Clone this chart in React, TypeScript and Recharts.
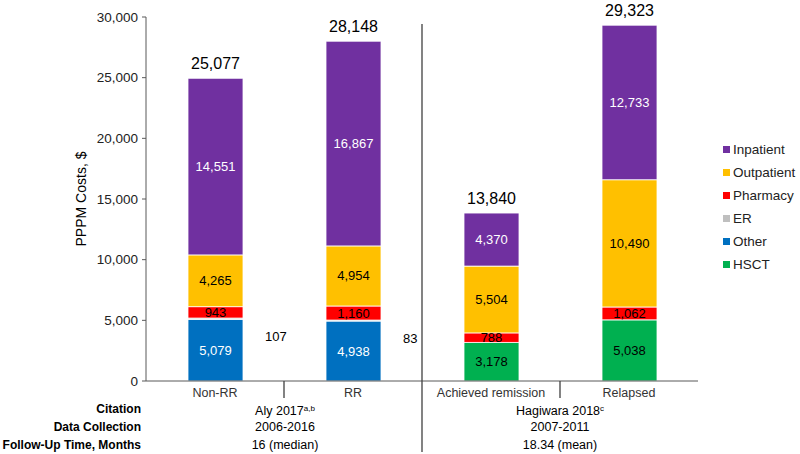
import React from "react"
import { BarChart, Bar, XAxis, YAxis, LabelList } from "recharts"

const groups = ["Non-RR", "RR", "Achieved remission", "Relapsed"]
const other = [5079, 4938, null, null]
const hsct = [null, null, 3178, 5038]
const er = [107, 83, null, null]
const pharmacy = [943, 1160, 788, 1062]
const outpatient = [4265, 4954, 5504, 10490]
const inpatient = [14551, 16867, 4370, 12733]
const totals = [25077, 28148, 13840, 29323]
const yTicks = [0, 5000, 10000, 15000, 20000, 25000, 30000]

const tableRows = ["Citation", "Data Collection", "Follow-Up Time, Months"]
const studyA = ["Aly 2017", "2006-2016", "16 (median)"]
const studyB = ["Hagiwara 2018", "2007-2011", "18.34 (mean)"]

const series = [
  { key: "other", name: "Other", color: "#0070C0", text: "#fff" },
  { key: "hsct", name: "HSCT", color: "#00B050", text: "#000" },
  { key: "er", name: "ER", color: "#BFBFBF", text: "#000" },
  { key: "pharmacy", name: "Pharmacy", color: "#FF0000", text: "#000" },
  { key: "outpatient", name: "Outpatient", color: "#FFC000", text: "#000" },
  { key: "inpatient", name: "Inpatient", color: "#7030A0", text: "#fff" },
]

const legendOrder = ["inpatient", "outpatient", "pharmacy", "er", "other", "hsct"]

const data = groups.map((g, i) => ({
  group: g,
  other: other[i],
  hsct: hsct[i],
  er: er[i],
  pharmacy: pharmacy[i],
  outpatient: outpatient[i],
  inpatient: inpatient[i],
  total: totals[i],
}))

const fmt = (v: number) => v.toLocaleString("en-US")
const font = "'Liberation Sans', Arial, sans-serif"

const W = 800
const H = 454
const plotLeft = 146
const plotRight = 698
const plotTop = 17
const plotBottom = 381
const xAxisH = 20
const band = (plotRight - plotLeft) / groups.length

function centerLabel(color: string) {
  return (props: any) => {
    const { x, y, width, height, value } = props
    if (value == null) return null
    return (
      <text
        x={x + width / 2}
        y={y + height / 2}
        textAnchor="middle"
        dominantBaseline="central"
        fontSize={13}
        fontFamily={font}
        fill={color}
      >
        {fmt(value)}
      </text>
    )
  }
}

// ER is too thin to label inside, so its value sits beside the bar
function erLabel(props: any) {
  const { x, y, width, value } = props
  if (value == null) return null
  return (
    <text
      x={x + width + 22}
      y={y + 18}
      textAnchor="start"
      dominantBaseline="central"
      fontSize={13}
      fontFamily={font}
      fill="#000"
    >
      {value}
    </text>
  )
}

function totalLabel(props: any) {
  const { x, y, width, index } = props
  return (
    <text
      x={x + width / 2}
      y={y - 15}
      textAnchor="middle"
      dominantBaseline="central"
      fontSize={16}
      fontFamily={font}
      fill="#000"
    >
      {fmt(totals[index])}
    </text>
  )
}

// separators between the study groups
const dividers = [
  { pos: 1, top: plotBottom, bottom: plotBottom + 17 },
  { pos: 2, top: 24, bottom: 452 },
  { pos: 3, top: plotBottom, bottom: plotBottom + 17 },
]

export default function App() {
  return (
    <div
      style={{
        position: "absolute",
        left: 0,
        top: 0,
        width: W,
        height: H,
        background: "#fff",
        fontFamily: font,
      }}
    >
      <BarChart
        width={W}
        height={H}
        data={data}
        margin={{ top: plotTop, right: W - plotRight, bottom: H - plotBottom - xAxisH, left: 0 }}
        barSize={55}
      >
        <XAxis
          dataKey="group"
          height={xAxisH}
          tickLine={false}
          tickSize={4}
          tickMargin={3}
          axisLine={{ stroke: "#595959" }}
          tick={{ fontSize: 12.5, fill: "#333", fontFamily: font }}
          interval={0}
        />
        <YAxis
          width={plotLeft}
          domain={[0, 30000]}
          ticks={yTicks}
          tickFormatter={fmt}
          axisLine={{ stroke: "#595959" }}
          tickLine={{ stroke: "#595959" }}
          tickSize={4}
          tickMargin={4}
          tick={{ fontSize: 13.5, fill: "#222", fontFamily: font }}
          label={{
            content: (p: any) => {
              const vb = p.viewBox
              const cx = vb.x + 81
              const cy = vb.y + vb.height / 2
              return (
                <text
                  x={cx}
                  y={cy}
                  transform={`rotate(-90 ${cx} ${cy})`}
                  textAnchor="middle"
                  dominantBaseline="central"
                  fontSize={14}
                  fontFamily={font}
                  fill="#000"
                >
                  PPPM Costs, $
                </text>
              )
            },
          }}
        />
        {series.map((s) => (
          <Bar
            key={s.key}
            dataKey={s.key}
            name={s.name}
            stackId="a"
            fill={s.color}
            stroke="#fff"
            strokeWidth={0.8}
            isAnimationActive={false}
          >
            {s.key === "er" ? (
              <LabelList dataKey={s.key} content={erLabel} />
            ) : (
              <LabelList dataKey={s.key} content={centerLabel(s.text)} />
            )}
            {s.key === "inpatient" && <LabelList dataKey="total" content={totalLabel} />}
          </Bar>
        ))}
      </BarChart>

      <svg
        width={W}
        height={H}
        style={{ position: "absolute", left: 0, top: 0, pointerEvents: "none" }}
      >
        {dividers.map((d) => {
          const x = plotLeft + band * d.pos
          return (
            <line key={d.pos} x1={x} x2={x} y1={d.top} y2={d.bottom} stroke="#404040" strokeWidth={1.3} />
          )
        })}
      </svg>

      {/* legend */}
      <div style={{ position: "absolute", left: 723, top: 138 }}>
        {legendOrder.map((k) => {
          const s = series.find((x) => x.key === k)!
          return (
            <div
              key={k}
              style={{ display: "flex", alignItems: "center", height: 23, fontSize: 13.5, color: "#222" }}
            >
              <span style={{ width: 7, height: 7, background: s.color, marginRight: 3, display: "inline-block" }} />
              {s.name}
            </div>
          )
        })}
      </div>

      {/* study table */}
      {tableRows.map((r, i) => (
        <React.Fragment key={r}>
          <div
            style={{
              position: "absolute",
              right: W - 141,
              top: 401 + i * 18,
              fontSize: 12,
              fontWeight: "bold",
              color: "#000",
              whiteSpace: "nowrap",
              lineHeight: "16px",
            }}
          >
            {r}
          </div>
          <div
            style={{
              position: "absolute",
              left: 285 - 80,
              width: 160,
              textAlign: "center",
              top: 401 + i * 18,
              fontSize: 12.5,
              color: "#000",
              lineHeight: "16px",
            }}
          >
            {studyA[i]}
            {i === 0 && <sup style={{ fontSize: 8, verticalAlign: "4px" }}>a,b</sup>}
          </div>
          <div
            style={{
              position: "absolute",
              left: 560 - 80,
              width: 160,
              textAlign: "center",
              top: 401 + i * 18,
              fontSize: 12.5,
              color: "#000",
              lineHeight: "16px",
            }}
          >
            {studyB[i]}
            {i === 0 && <sup style={{ fontSize: 8, verticalAlign: "4px" }}>c</sup>}
          </div>
        </React.Fragment>
      ))}
    </div>
  )
}
